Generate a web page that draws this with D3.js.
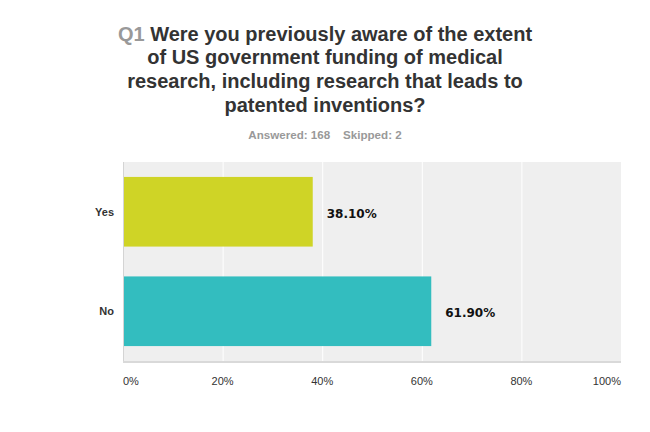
<!DOCTYPE html>
<html><head><meta charset="utf-8">
<script src="https://cdn.jsdelivr.net/npm/d3@7"></script>
<style>body{margin:0;background:#fff;}svg{display:block;}</style>
</head><body>
<script>
const categories = ["Yes", "No"];
const values = [38.10, 61.90];
const colors = ["#cfd426", "#33bdbf"];
const ticks = [0, 20, 40, 60, 80, 100];
const titleLines = ["Were you previously aware of the extent", "of US government funding of medical", "research, including research that leads to", "patented inventions?"];
const subtitle = "Answered: 168    Skipped: 2";

const W = 650, H = 432;
const m = {left: 123, right: 29, top: 162, bottom: 71};
const svg = d3.select("body").append("svg").attr("width", W).attr("height", H);
const font = "'Liberation Sans', Arial, sans-serif";

// Title
const title = svg.append("text").attr("text-anchor", "middle").attr("font-family", font)
  .attr("font-weight", "bold").attr("font-size", 20).attr("fill", "#333");
titleLines.forEach((l, i) => {
  const t = title.append("tspan").attr("x", 325).attr("y", 40.5 + i * 23.7);
  if (i === 0) t.append("tspan").attr("fill", "#999").text("Q1 ");
  t.append("tspan").text(l);
});
svg.append("text").attr("x", 325).attr("y", 139).attr("text-anchor", "middle")
  .attr("font-family", font).attr("font-weight", "bold").attr("font-size", 11.6)
  .attr("fill", "#999").attr("xml:space", "preserve").style("white-space", "pre").text(subtitle);

const iw = W - m.left - m.right, ih = H - m.top - m.bottom;
const x = d3.scaleLinear().domain([0, 100]).range([m.left, m.left + iw]);
const y = d3.scaleBand().domain(categories).range([m.top, m.top + ih]).paddingInner(0.3).paddingOuter(0.15);

svg.append("rect").attr("x", m.left).attr("y", m.top).attr("width", iw).attr("height", ih).attr("fill", "#efefef");
svg.selectAll(".grid").data(ticks.slice(1, -1)).enter().append("line")
  .attr("x1", d => x(d) + 0.5).attr("x2", d => x(d) + 0.5).attr("y1", m.top).attr("y2", m.top + ih)
  .attr("stroke", "#fff").attr("stroke-width", 1);

svg.selectAll(".bar").data(values).enter().append("rect")
  .attr("x", x(0)).attr("y", (d, i) => y(categories[i]))
  .attr("width", d => x(d) - x(0)).attr("height", y.bandwidth())
  .attr("fill", (d, i) => colors[i]);

// axes lines
svg.append("line").attr("x1", m.left + 0.5).attr("x2", m.left + 0.5).attr("y1", m.top).attr("y2", m.top + ih)
  .attr("stroke", "#d4d4d4").attr("stroke-width", 1);
svg.append("line").attr("x1", m.left).attr("x2", m.left + iw).attr("y1", m.top + ih + 1).attr("y2", m.top + ih + 1)
  .attr("stroke", "#d9d9d9").attr("stroke-width", 2);

// category labels
svg.selectAll(".cat").data(categories).enter().append("text")
  .attr("x", m.left - 9).attr("y", d => y(d) + y.bandwidth() / 2).attr("dy", "0.35em")
  .attr("text-anchor", "end").attr("font-family", font).attr("font-weight", "bold")
  .attr("font-size", 11).attr("fill", "#333").text(d => d);

// value labels
svg.selectAll(".val").data(values).enter().append("text")
  .attr("x", d => x(d) + 14).attr("y", (d, i) => y(categories[i]) + y.bandwidth() / 2 + 2).attr("dy", "0.35em")
  .attr("font-family", "'DejaVu Sans', Verdana, sans-serif").attr("font-weight", "bold")
  .attr("font-size", 12).attr("fill", "#111").text(d => d.toFixed(2) + "%");

// tick labels
svg.selectAll(".tick").data(ticks).enter().append("text")
  .attr("x", d => x(d)).attr("y", 385)
  .attr("text-anchor", (d, i) => i === 0 ? "start" : (i === ticks.length - 1 ? "end" : "middle"))
  .attr("font-family", font).attr("font-size", 11).attr("fill", "#333").text(d => d + "%");
</script>
</body></html>
